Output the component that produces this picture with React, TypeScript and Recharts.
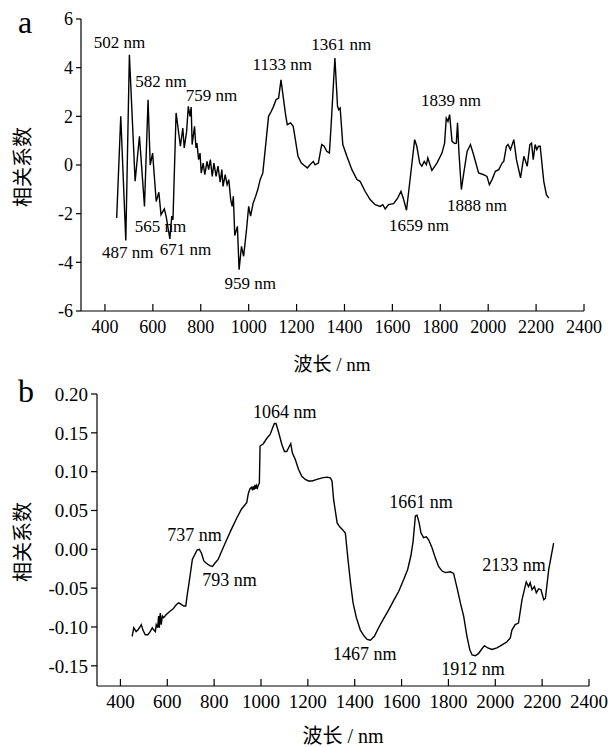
import React from "react";
import { LineChart, Line, XAxis, YAxis, ReferenceDot } from "recharts";

const FONT = "'Liberation Serif', 'Times New Roman', 'Noto Sans CJK SC', serif";

// panel a: wavelength (nm) and correlation coefficient
const wlA = [449, 466, 487, 502, 526, 544, 565, 580, 589, 599, 614, 625, 634, 648, 656, 671, 679, 684, 697, 715, 725, 731, 741, 748, 755, 760, 764, 774, 780, 784, 791, 797, 802, 810, 817, 826, 833, 840, 848, 855, 864, 872, 881, 888, 893, 902, 910, 917, 925, 931, 936, 942, 953, 960, 970, 979, 991, 1000, 1008, 1019, 1029, 1038, 1048, 1059, 1069, 1083, 1094, 1104, 1114, 1125, 1135, 1153, 1161, 1175, 1186, 1195, 1206, 1220, 1236, 1245, 1256, 1270, 1277, 1291, 1305, 1315, 1326, 1337, 1344, 1360, 1371, 1376, 1382, 1393, 1410, 1431, 1452, 1465, 1486, 1507, 1528, 1549, 1560, 1570, 1584, 1605, 1622, 1636, 1647, 1659, 1677, 1693, 1702, 1714, 1723, 1733, 1742, 1748, 1765, 1786, 1807, 1818, 1825, 1832, 1839, 1849, 1860, 1867, 1872, 1878, 1888, 1898, 1912, 1926, 1939, 1960, 1981, 1995, 2005, 2016, 2030, 2044, 2058, 2065, 2076, 2083, 2093, 2107, 2118, 2135, 2149, 2163, 2174, 2181, 2188, 2196, 2203, 2210, 2217, 2232, 2243, 2253];
const corrA = [-2.18, 2.0, -3.1, 4.53, -0.67, 1.18, -1.7, 2.68, 0.0, 0.49, -1.5, -1.12, -2.04, -1.8, -2.14, -3.04, -2.1, -2.25, 2.14, 0.77, 1.52, 0.7, 1.38, 2.41, 2.0, 2.38, 0.84, 1.59, 0.7, 0.9, 0.22, 0.49, -0.33, 0.08, -0.4, 0.15, -0.19, 0.22, -0.47, 0.08, -0.47, -0.05, -0.71, -0.19, -0.88, -0.4, -0.81, -0.6, -1.42, -1.7, -1.29, -2.9, -2.52, -4.3, -3.34, -3.75, -2.66, -1.7, -2.1, -1.56, -1.29, -1.01, -0.6, -0.33, 0.63, 2.0, 2.2, 2.41, 2.68, 2.75, 3.5, 2.14, 1.66, 1.73, 1.59, 1.04, 0.36, 0.08, -0.05, -0.12, 0.01, 0.15, 0.01, 0.08, 0.84, 0.77, 0.56, 0.49, 1.59, 4.4, 2.41, 2.27, 2.34, 0.84, 0.36, -0.19, -0.6, -0.67, -1.08, -1.42, -1.63, -1.7, -1.63, -1.81, -1.63, -1.59, -1.36, -1.08, -1.42, -1.86, -0.33, 1.04, 0.77, 0.08, -0.05, 0.15, 0.01, 0.29, -0.22, 0.08, 0.49, 0.9, 1.93, 1.79, 2.07, 0.97, 0.88, 0.9, 1.73, 0.49, -1.01, -0.33, 0.56, 0.84, 0.42, -0.33, -0.4, -0.47, -0.81, -0.6, -0.26, -0.19, 0.08, 0.15, 0.77, 0.84, 0.63, 1.04, 0.22, -0.53, 0.36, -0.05, 0.84, 0.9, 0.22, 0.84, 0.63, 0.77, 0.77, -0.67, -1.22, -1.36];

// panel b
const wlB = [450, 457, 467, 474, 481, 489, 496, 506, 517, 527, 536, 543, 549, 553, 559, 563, 566, 570, 574, 579, 584, 596, 610, 624, 639, 649, 660, 670, 679, 684, 693, 701, 707, 717, 727, 737, 746, 756, 767, 781, 793, 803, 817, 831, 853, 874, 896, 917, 939, 946, 953, 960, 964, 967, 971, 974, 978, 981, 985, 989, 993, 996, 1010, 1025, 1039, 1049, 1057, 1064, 1074, 1089, 1100, 1110, 1120, 1127, 1134, 1146, 1160, 1174, 1189, 1203, 1218, 1239, 1261, 1282, 1296, 1303, 1310, 1325, 1336, 1349, 1360, 1370, 1382, 1393, 1407, 1424, 1441, 1453, 1467, 1484, 1502, 1524, 1545, 1566, 1588, 1609, 1626, 1640, 1649, 1659, 1666, 1675, 1683, 1694, 1706, 1716, 1730, 1744, 1758, 1773, 1787, 1808, 1822, 1837, 1851, 1865, 1879, 1891, 1901, 1915, 1929, 1943, 1954, 1968, 1986, 2007, 2029, 2050, 2064, 2071, 2085, 2099, 2114, 2132, 2142, 2149, 2157, 2167, 2175, 2185, 2195, 2207, 2214, 2228, 2249];
const corrB = [-0.112, -0.101, -0.106, -0.104, -0.101, -0.097, -0.104, -0.11, -0.11, -0.106, -0.101, -0.104, -0.106, -0.097, -0.101, -0.086, -0.101, -0.082, -0.097, -0.086, -0.088, -0.084, -0.08, -0.077, -0.071, -0.069, -0.071, -0.073, -0.073, -0.061, -0.043, -0.026, -0.013, -0.007, -0.001, 0.0, -0.005, -0.015, -0.018, -0.021, -0.022, -0.018, -0.013, -0.003, 0.012, 0.026, 0.04, 0.052, 0.06, 0.072, 0.078, 0.08, 0.076, 0.081, 0.077, 0.083, 0.078, 0.082, 0.079, 0.083, 0.085, 0.133, 0.136, 0.143, 0.148, 0.156, 0.162, 0.162, 0.152, 0.135, 0.126, 0.126, 0.132, 0.136, 0.124, 0.116, 0.103, 0.094, 0.09, 0.088, 0.088, 0.09, 0.092, 0.093, 0.092, 0.088, 0.064, 0.034, 0.029, 0.025, 0.021, -0.009, -0.043, -0.069, -0.088, -0.104, -0.112, -0.116, -0.117, -0.112, -0.101, -0.089, -0.078, -0.066, -0.054, -0.039, -0.026, -0.008, 0.01, 0.043, 0.044, 0.034, 0.021, 0.015, 0.016, 0.012, 0.002, -0.011, -0.022, -0.028, -0.03, -0.029, -0.031, -0.05, -0.069, -0.086, -0.112, -0.129, -0.136, -0.137, -0.134, -0.128, -0.124, -0.127, -0.129, -0.127, -0.123, -0.119, -0.114, -0.104, -0.097, -0.095, -0.065, -0.042, -0.048, -0.043, -0.052, -0.048, -0.056, -0.051, -0.052, -0.065, -0.063, -0.026, 0.008];

const xTicks = [400, 600, 800, 1000, 1200, 1400, 1600, 1800, 2000, 2200, 2400];
const yTicksA = [-6, -4, -2, 0, 2, 4, 6];
const yTicksB = [-0.15, -0.1, -0.05, 0, 0.05, 0.1, 0.15, 0.2];

// peak labels: text, and where the label sits (nm, value)
const labelsA = [
  { text: "502 nm", x: 461, y: 5.03 },
  { text: "582 nm", x: 634, y: 3.42 },
  { text: "759 nm", x: 845, y: 2.84 },
  { text: "1133 nm", x: 1140, y: 4.12 },
  { text: "1361 nm", x: 1386, y: 4.94 },
  { text: "1839 nm", x: 1845, y: 2.64 },
  { text: "565 nm", x: 632, y: -2.54 },
  { text: "487 nm", x: 495, y: -3.61 },
  { text: "671 nm", x: 736, y: -3.49 },
  { text: "959 nm", x: 1007, y: -4.89 },
  { text: "1659 nm", x: 1711, y: -2.5 },
  { text: "1888 nm", x: 1953, y: -1.68 },
];
const labelsB = [
  { text: "1064 nm", x: 1101, y: 0.1768 },
  { text: "737 nm", x: 716, y: 0.0183 },
  { text: "793 nm", x: 866, y: -0.0397 },
  { text: "1661 nm", x: 1683, y: 0.0608 },
  { text: "1467 nm", x: 1443, y: -0.135 },
  { text: "1912 nm", x: 1905, y: -0.154 },
  { text: "2133 nm", x: 2080, y: -0.0204 },
];

const dataA = wlA.map((wl, i) => ({ wl, r: corrA[i] }));
const dataB = wlB.map((wl, i) => ({ wl, r: corrB[i] }));

const XTick = (props: any) => {
  const { x, y, payload, fs } = props;
  return (
    <g>
      <line x1={x} x2={x} y1={y} y2={y - 7} stroke="#000" strokeWidth={1.2} />
      <text x={x} y={y + 22} textAnchor="middle" fontSize={fs} fontFamily={FONT} fill="#000">
        {payload.value}
      </text>
    </g>
  );
};

const peakLabel = (text: string, fs: number) => (p: any) => (
  <text x={p.cx} y={p.cy} textAnchor="middle" dominantBaseline="central" fontSize={fs} fontFamily={FONT} fill="#000">
    {text}
  </text>
);

const axisStyle = { stroke: "#000", strokeWidth: 1.2 };

export default function App() {
  return (
    <div style={{ position: "absolute", left: 0, top: 0, width: 608, height: 747, background: "#fff" }}>
      <div style={{ position: "absolute", left: 0, top: 0 }}>
        <LineChart width={608} height={375} data={dataA} margin={{ top: 19, right: 24, left: 21, bottom: 34 }}>
          <XAxis
            dataKey="wl"
            type="number"
            domain={[300, 2400]}
            ticks={xTicks}
            interval={0}
            height={30}
            tickSize={0}
            tickMargin={0}
            axisLine={axisStyle}
            tickLine={false}
            tick={(p: any) => <XTick {...p} fs={18} />}
          />
          <YAxis
            type="number"
            domain={[-6, 6]}
            ticks={yTicksA}
            interval={0}
            width={60}
            tickSize={5}
            tickMargin={3}
            axisLine={axisStyle}
            tickLine={axisStyle}
            tick={{ fill: "#000", fontSize: 18, fontFamily: FONT }}
          />
          <Line type="linear" dataKey="r" stroke="#000" strokeWidth={1.4} dot={false} isAnimationActive={false} />
          {labelsA.map((l) => (
            <ReferenceDot key={l.text} x={l.x} y={l.y} r={0} shape={peakLabel(l.text, 17)} />
          ))}
        </LineChart>
      </div>
      <div style={{ position: "absolute", left: 0, top: 375 }}>
        <LineChart width={608} height={372} data={dataB} margin={{ top: 19, right: 19, left: 27, bottom: 31 }}>
          <XAxis
            dataKey="wl"
            type="number"
            domain={[300, 2400]}
            ticks={xTicks}
            interval={0}
            height={30}
            tickSize={0}
            tickMargin={0}
            axisLine={axisStyle}
            tickLine={false}
            tick={(p: any) => <XTick {...p} fs={19} />}
          />
          <YAxis
            type="number"
            domain={[-0.176, 0.2]}
            allowDataOverflow
            ticks={yTicksB}
            interval={0}
            width={70}
            tickSize={6}
            tickMargin={3}
            axisLine={axisStyle}
            tickLine={axisStyle}
            tickFormatter={(v: number) => v.toFixed(2)}
            tick={{ fill: "#000", fontSize: 19, fontFamily: FONT }}
          />
          <Line type="linear" dataKey="r" stroke="#000" strokeWidth={1.4} dot={false} isAnimationActive={false} />
          {labelsB.map((l) => (
            <ReferenceDot key={l.text} x={l.x} y={l.y} r={0} shape={peakLabel(l.text, 18)} />
          ))}
        </LineChart>
      </div>
      <svg width={608} height={747} style={{ position: "absolute", left: 0, top: 0, pointerEvents: "none" }} fontFamily={FONT} fill="#000">
        <text x={18} y={33} fontSize={32}>a</text>
        <text x={18} y={402} fontSize={32}>b</text>
        <text x={332} y={371} fontSize={19} textAnchor="middle">波长 / nm</text>
        <text x={343} y={743} fontSize={20} textAnchor="middle">波长 / nm</text>
        <text transform="translate(30,167) rotate(-90)" fontSize={20} textAnchor="middle">相关系数</text>
        <text transform="translate(30,542) rotate(-90)" fontSize={20} textAnchor="middle">相关系数</text>
      </svg>
    </div>
  );
}
